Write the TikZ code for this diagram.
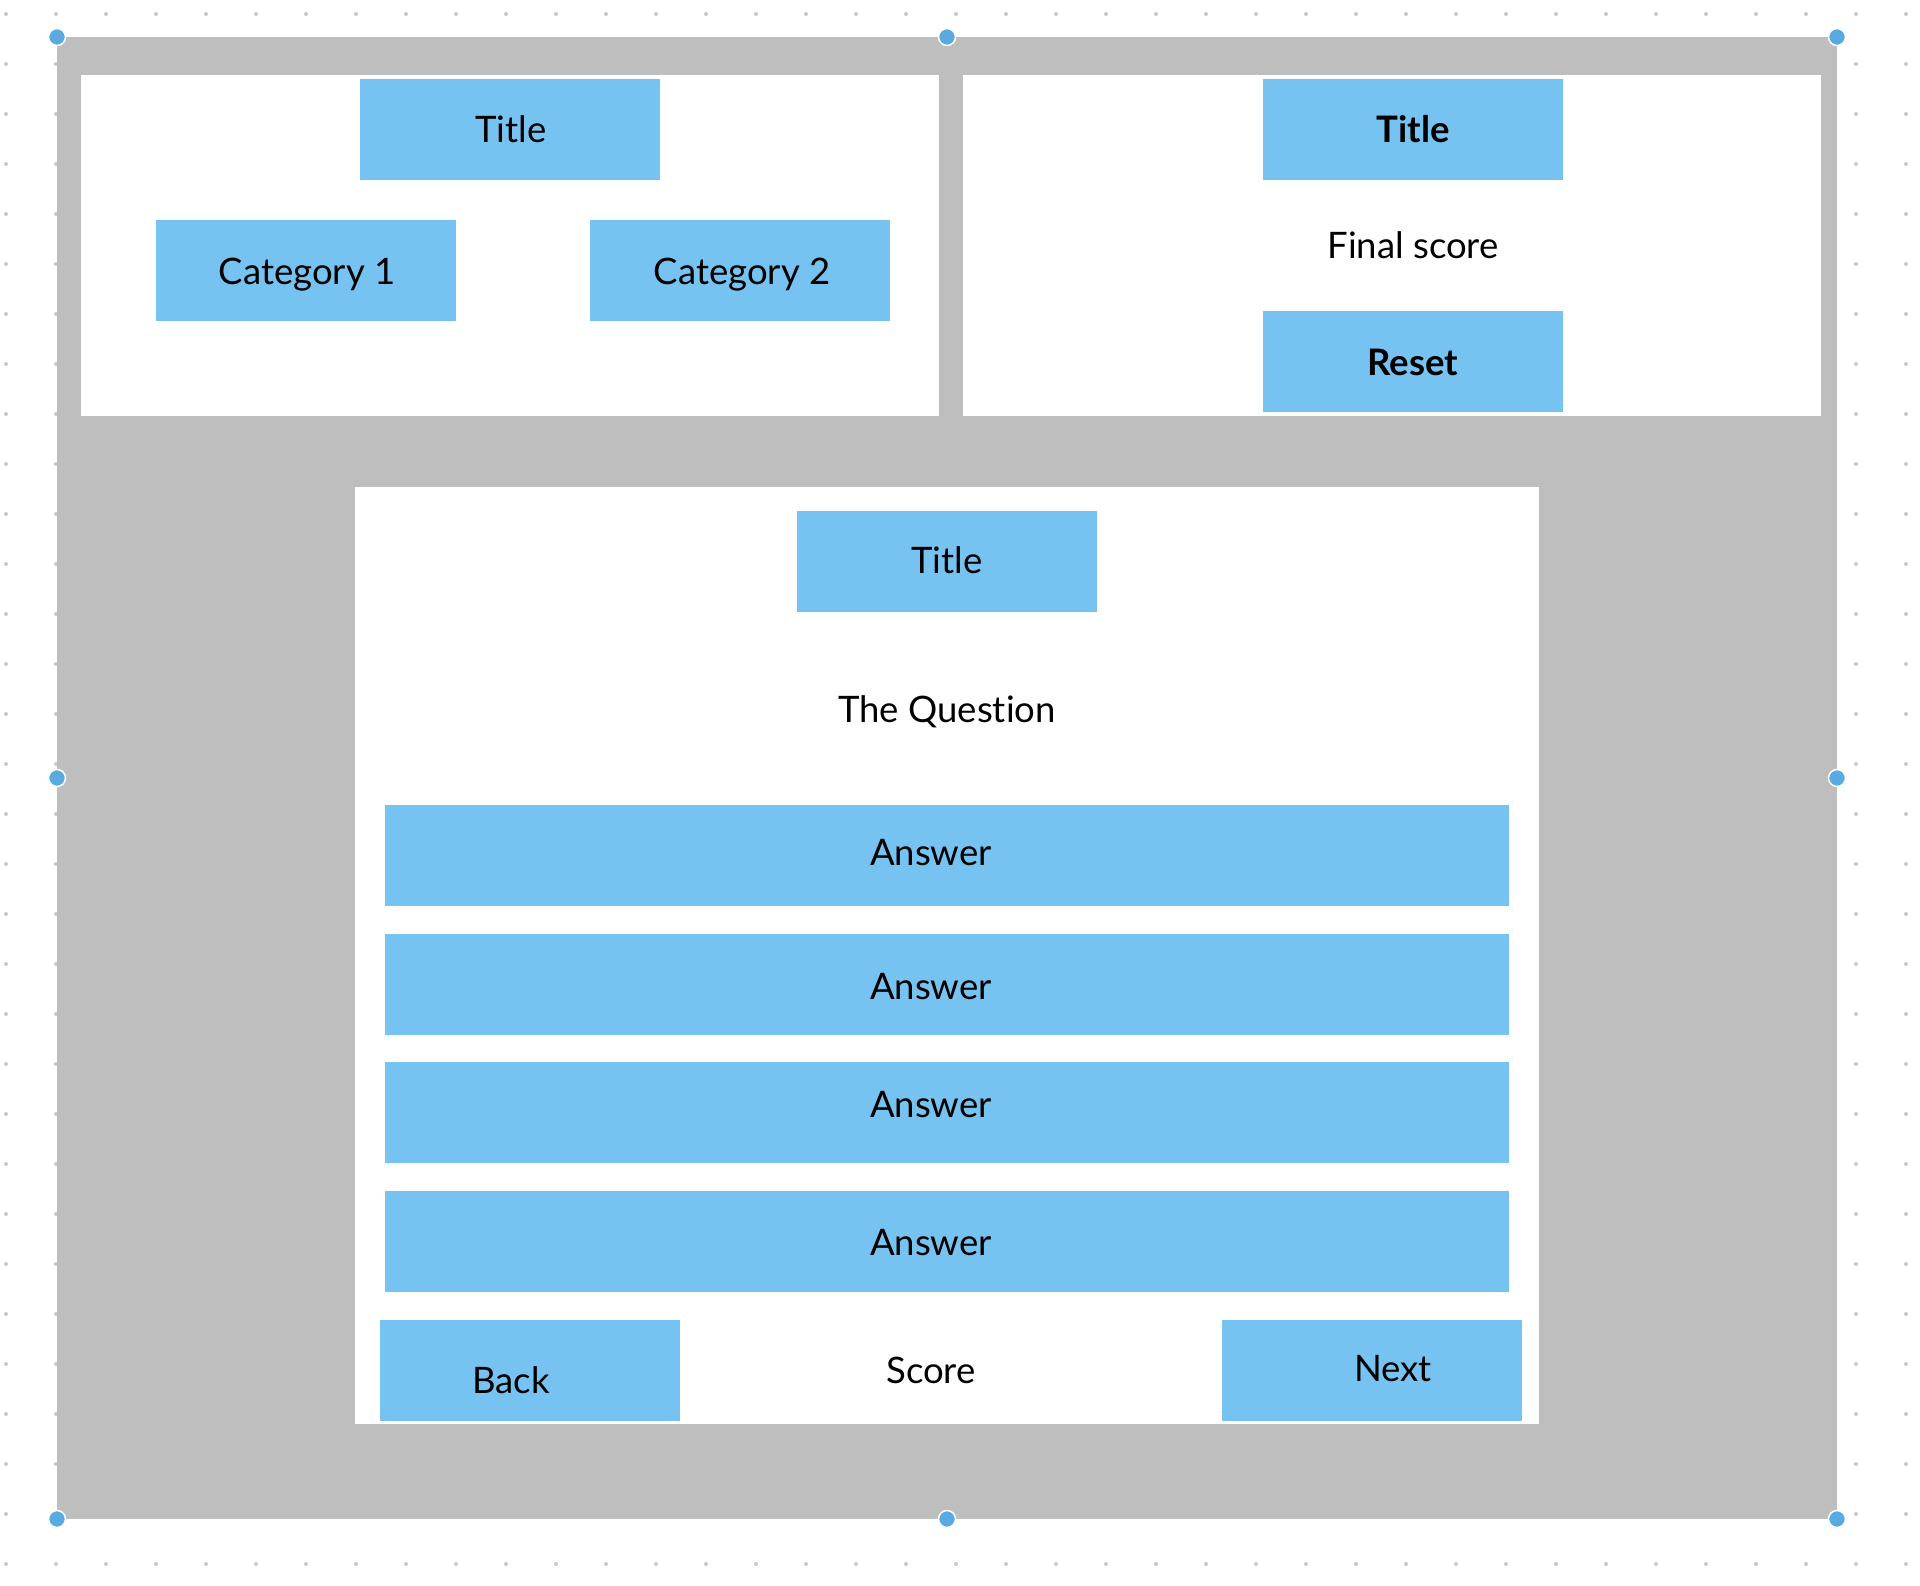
\documentclass[tikz,border=0pt]{standalone}
\usepackage{fontspec}
\setmainfont{Lato}[Ligatures={NoCommon,NoRare}]
\definecolor{panelgrey}{RGB}{190,190,190}
\definecolor{btnblue}{RGB}{118,194,240}
\definecolor{handleblue}{RGB}{90,170,226}
\definecolor{dotgrey}{RGB}{200,200,200}
\tikzset{
  btn/.style={rectangle, fill=btnblue, draw=none, inner sep=0pt, minimum width=300pt, minimum height=101pt},
  ansbox/.style={btn, minimum width=1124pt},
  lbl/.style={inner sep=0pt, anchor=base, font=\fontsize{36.5}{40}\selectfont, text=black},
  blbl/.style={lbl, font=\fontsize{36.5}{40}\selectfont\bfseries},
  handle/.style={circle, fill=handleblue, draw=white, line width=1.5pt, minimum size=17pt, inner sep=0pt},
  dotmark/.style={fill=dotgrey}
}
\begin{document}
\begin{tikzpicture}[x=1pt,y=-1pt]
\useasboundingbox (0,0) rectangle (1920,1586);
\fill[white] (0,0) rectangle (1920,1586);
% dotted grid
\foreach \i in {0,...,38} {
  \foreach \j in {0,...,31} {
    \fill[dotmark] (6+50*\i,14+50*\j) circle (2pt);
  }
}
% frame and panels
\fill[panelgrey] (57,37) rectangle (1837,1519);
\fill[white] (81,75) rectangle (939,416);
\fill[white] (963,75) rectangle (1821,416);
\fill[white] (355,487) rectangle (1539,1424);

% top-left panel
\node[btn] (tltitle) at (510,129.5) {};
\node[btn] (cat1) at (306,271) {};
\node[btn] (cat2) at (740,271) {};
\node[lbl] (tltitletxt) at (511,143) {Title};
\node[lbl] (cat1txt) at (307,285) {Category 1};
\node[lbl] (cat2txt) at (742,285) {Category 2};

% top-right panel
\node[btn] (trtitle) at (1412.5,129.5) {};
\node[btn] (reset) at (1412.5,361.5) {};
\node[blbl] (trtitletxt) at (1413,143) {Title};
\node[lbl] (finaltxt) at (1413,259) {Final score};
\node[blbl] (resettxt) at (1413,376) {Reset};

% bottom panel
\node[btn] (btitle) at (947,561.5) {};
\node[lbl] (btitletxt) at (947,573) {Title};
\node[lbl] (questiontxt) at (947,722) {The Question};
\node[ansbox] (ans1) at (947,855.5) {};
\node[ansbox] (ans2) at (947,984.5) {};
\node[ansbox] (ans3) at (947,1112.5) {};
\node[ansbox] (ans4) at (947,1241.5) {};
\node[lbl] (ans1txt) at (931,865) {Answer};
\node[lbl] (ans2txt) at (931,999) {Answer};
\node[lbl] (ans3txt) at (931,1117) {Answer};
\node[lbl] (ans4txt) at (931,1255) {Answer};
\node[btn] (back) at (530,1370.5) {};
\node[btn] (next) at (1372,1370.5) {};
\node[lbl] (backtxt) at (511,1393) {Back};
\node[lbl] (scoretxt) at (931,1383) {Score};
\node[lbl] (nexttxt) at (1393,1381) {Next};

% selection handles
\node[handle] (h1) at (57,37) {};
\node[handle] (h2) at (947,37) {};
\node[handle] (h3) at (1837,37) {};
\node[handle] (h4) at (57,778) {};
\node[handle] (h5) at (1837,778) {};
\node[handle] (h6) at (57,1519) {};
\node[handle] (h7) at (947,1519) {};
\node[handle] (h8) at (1837,1519) {};
\end{tikzpicture}
\end{document}
